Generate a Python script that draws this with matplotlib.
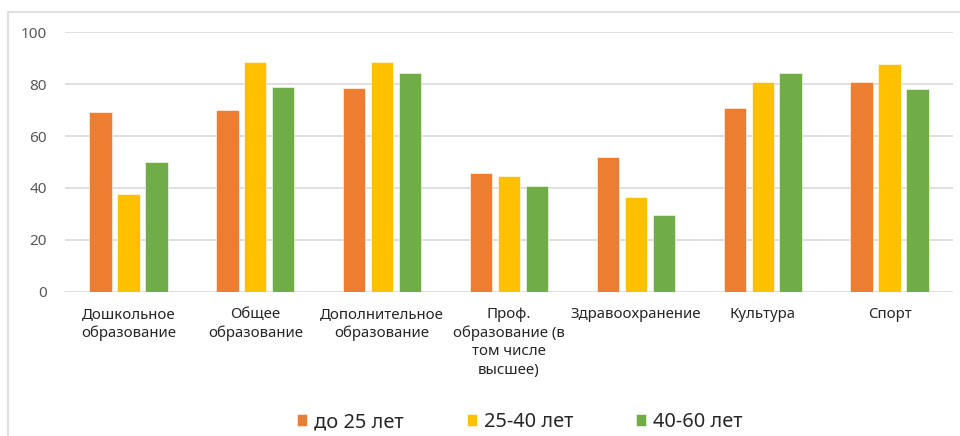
import numpy as np
import matplotlib.pyplot as plt
from matplotlib.patches import Rectangle

plt.rcParams['font.family'] = ['Noto Sans', 'DejaVu Sans']

categories = ["Дошкольное\nобразование", "Общее\nобразование", "Дополнительное\nобразование",
              "Проф.\nобразование (в\nтом числе\nвысшее)", "Здравоохранение", "Культура", "Спорт"]
series_names = ["до 25 лет", "25-40 лет", "40-60 лет"]
under_25 = [69.2, 69.9, 78.4, 45.9, 51.8, 70.9, 80.8]
age_25_40 = [37.7, 88.4, 88.4, 44.7, 36.5, 80.8, 87.9]
age_40_60 = [49.9, 79.0, 84.4, 40.6, 29.4, 84.4, 78.0]
colors = ["#ED7D31", "#FFC000", "#70AD47"]
yticks = [0, 20, 40, 60, 80, 100]

fig = plt.figure(figsize=(9.6, 4.36), dpi=100)
ax = fig.add_axes([65 / 960, 1 - 291.7 / 436, (953 - 65) / 960, (291.7 - 32.3) / 436])

# рамка всей диаграммы (правый и нижний край уходят за обрез)
fig.patches.append(Rectangle((7.5 / 960, -0.05), 1.1, 1.05 - 11.5 / 436,
                             transform=fig.transFigure, fill=False,
                             edgecolor="#d9d9d9", lw=1.2, zorder=0))

x = np.arange(len(categories))
step, width = 0.22, 0.176
for i, (vals, name) in enumerate(zip([under_25, age_25_40, age_40_60], series_names)):
    ax.bar(x + (i - 1) * step, vals, width, color=colors[i], label=name,
           edgecolor="white", linewidth=0.4, zorder=3)

ax.set_xlim(-0.5, len(categories) - 0.5)
ax.set_ylim(0, 100)
ax.set_yticks(yticks)
ax.set_yticklabels([str(t) for t in yticks], fontsize=11, color="#595959")
ax.set_xticks(x)
ax.set_xticklabels(categories, fontsize=10.8, color="#262626", linespacing=1.3, va="top")
ax.tick_params(axis="y", length=0, pad=13)
ax.tick_params(axis="x", length=0, pad=11)
ax.grid(axis="y", color="#d9d9d9", linewidth=1.2, zorder=0)
for s in ax.spines.values():
    s.set_visible(False)

handles, labels = ax.get_legend_handles_labels()
fig.legend(handles, labels, loc="center", bbox_to_anchor=(520 / 960, 1 - 422 / 436),
           ncol=3, frameon=False, fontsize=14.4, handlelength=0.5, handleheight=0.5,
           handletextpad=0.35, columnspacing=3.15, labelcolor="#262626")

fig.savefig("out.png", dpi=100)
